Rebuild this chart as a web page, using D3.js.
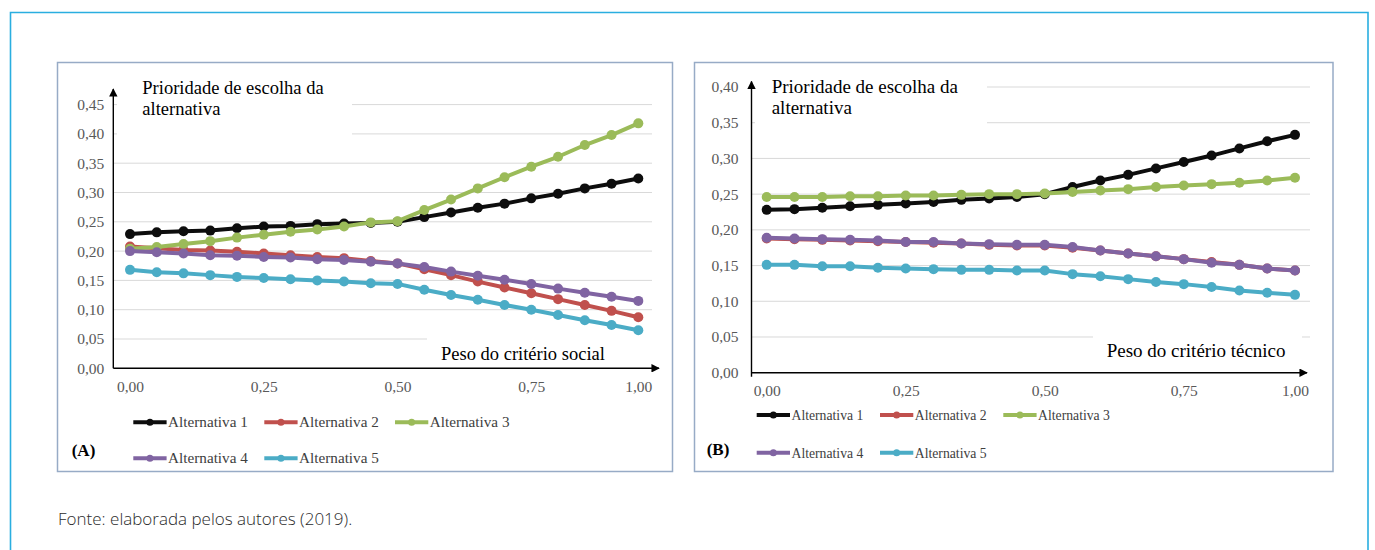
<!DOCTYPE html>
<html>
<head>
<meta charset="utf-8">
<script src="https://cdn.jsdelivr.net/npm/d3@7"></script>
<style>
  body { margin: 0; background: #fff; }
  svg { display: block; }
</style>
</head>
<body>
<svg id="fig" width="1375" height="550"></svg>
<script>
// ---- data ----
const alternativas = ["Alternativa 1", "Alternativa 2", "Alternativa 3", "Alternativa 4", "Alternativa 5"];
// points along the weight axis (category positions)
const pontos = [0, 1, 2, 3, 4, 5, 6, 7, 8, 9, 10, 11, 12, 13, 14, 15, 16, 17, 18, 19];
const posRotulosX = [0, 5, 10, 15, 19];
const rotulosX = ["0,00", "0,25", "0,50", "0,75", "1,00"];
const ticksYSocial = [0, 0.05, 0.10, 0.15, 0.20, 0.25, 0.30, 0.35, 0.40, 0.45];
const ticksYTecnico = [0, 0.05, 0.10, 0.15, 0.20, 0.25, 0.30, 0.35, 0.40];

// (A) weight of the social criterion
const socialAlt1 = [0.229, 0.232, 0.234, 0.235, 0.239, 0.242, 0.243, 0.246, 0.247, 0.248, 0.250, 0.258, 0.266, 0.274, 0.281, 0.290, 0.298, 0.307, 0.315, 0.324];
const socialAlt2 = [0.208, 0.205, 0.202, 0.201, 0.199, 0.196, 0.193, 0.190, 0.188, 0.183, 0.179, 0.169, 0.159, 0.148, 0.138, 0.128, 0.118, 0.108, 0.098, 0.087];
const socialAlt3 = [0.204, 0.207, 0.212, 0.217, 0.223, 0.228, 0.233, 0.237, 0.242, 0.249, 0.251, 0.270, 0.288, 0.307, 0.326, 0.344, 0.361, 0.381, 0.398, 0.418];
const socialAlt4 = [0.200, 0.198, 0.196, 0.193, 0.192, 0.190, 0.189, 0.186, 0.185, 0.182, 0.179, 0.173, 0.165, 0.158, 0.151, 0.144, 0.136, 0.129, 0.122, 0.115];
const socialAlt5 = [0.168, 0.164, 0.162, 0.159, 0.156, 0.154, 0.152, 0.150, 0.148, 0.145, 0.144, 0.134, 0.125, 0.117, 0.108, 0.100, 0.091, 0.082, 0.074, 0.065];

// (B) weight of the technical criterion
const tecnicoAlt1 = [0.228, 0.229, 0.231, 0.233, 0.235, 0.237, 0.239, 0.242, 0.244, 0.246, 0.250, 0.260, 0.269, 0.277, 0.286, 0.295, 0.304, 0.314, 0.324, 0.333];
const tecnicoAlt2 = [0.188, 0.187, 0.186, 0.185, 0.184, 0.183, 0.182, 0.181, 0.179, 0.178, 0.178, 0.175, 0.171, 0.167, 0.163, 0.159, 0.155, 0.151, 0.146, 0.143];
const tecnicoAlt3 = [0.246, 0.246, 0.246, 0.247, 0.247, 0.248, 0.248, 0.249, 0.250, 0.250, 0.251, 0.253, 0.255, 0.257, 0.260, 0.262, 0.264, 0.266, 0.269, 0.273];
const tecnicoAlt4 = [0.189, 0.188, 0.187, 0.186, 0.185, 0.183, 0.183, 0.181, 0.180, 0.179, 0.179, 0.176, 0.171, 0.167, 0.163, 0.159, 0.154, 0.151, 0.146, 0.143];
const tecnicoAlt5 = [0.151, 0.151, 0.149, 0.149, 0.147, 0.146, 0.145, 0.144, 0.144, 0.143, 0.143, 0.138, 0.135, 0.131, 0.127, 0.124, 0.120, 0.115, 0.112, 0.109];

// ---- style ----
const cores = ["#0d0d0d", "#c0504d", "#9bbb59", "#8064a2", "#4bacc6"];
const serif = "'Liberation Serif', 'Times New Roman', serif";
const fmt = d3.formatLocale({ decimal: ",", thousands: ".", grouping: [3], currency: ["", ""] }).format(".2f");

const svg = d3.select("#fig");

// arrowhead used on both axes
svg.append("defs").append("marker")
  .attr("id", "seta").attr("viewBox", "0 0 10 10")
  .attr("refX", 9).attr("refY", 5)
  .attr("markerWidth", 6).attr("markerHeight", 6)
  .attr("markerUnits", "strokeWidth")
  .attr("orient", "auto")
  .append("path").attr("d", "M0,0 L10,5 L0,10 Z").attr("fill", "#000");

// outer page frame (open at the bottom)
svg.append("path")
  .attr("d", "M10.5,560 V12.5 H1368 V560")
  .attr("fill", "none").attr("stroke", "#2aaee0").attr("stroke-width", 1.6);

// source note
svg.append("text")
  .attr("x", 58).attr("y", 525)
  .attr("font-family", "'Open Sans', 'Noto Sans', sans-serif")
  .attr("font-size", 17).attr("font-weight", 300)
  .attr("fill", "#2b2b2b")
  .text("Fonte: elaborada pelos autores (2019).");

function painel(cfg) {
  const g = svg.append("g");

  // chart frame
  g.append("rect")
    .attr("x", cfg.frame[0]).attr("y", cfg.frame[1])
    .attr("width", cfg.frame[2] - cfg.frame[0]).attr("height", cfg.frame[3] - cfg.frame[1])
    .attr("fill", "#fff").attr("stroke", "#97abc6").attr("stroke-width", 1.5);

  const x = d3.scalePoint().domain(pontos).range(cfg.xRange);
  const y = d3.scaleLinear().domain([0, cfg.yMax]).range(cfg.yRange);

  // horizontal gridlines
  g.append("g").selectAll("line")
    .data(cfg.ticksY.filter(d => d > 0))
    .join("line")
    .attr("x1", cfg.axisX).attr("x2", cfg.gridEnd)
    .attr("y1", d => y(d)).attr("y2", d => y(d))
    .attr("stroke", "#d9d9d9").attr("stroke-width", 1);

  // y tick labels
  const ay = g.append("g")
    .attr("transform", `translate(${cfg.axisX},0)`)
    .call(d3.axisLeft(y).tickValues(cfg.ticksY).tickSize(0).tickPadding(cfg.yPad).tickFormat(fmt));
  ay.select(".domain").remove();
  ay.selectAll("text").attr("font-family", serif).attr("font-size", 15.5).attr("fill", "#595959");

  // x tick labels
  const ax = g.append("g")
    .attr("transform", `translate(0,${y(0)})`)
    .call(d3.axisBottom(x).tickValues(posRotulosX).tickSize(0).tickPadding(cfg.xPad)
      .tickFormat(d => rotulosX[posRotulosX.indexOf(d)]));
  ax.select(".domain").remove();
  ax.selectAll("text").attr("font-family", serif).attr("font-size", 15.5).attr("fill", "#595959");

  // text boxes for the axis titles
  g.append("rect").attr("x", cfg.titleBox[0]).attr("y", cfg.titleBox[1])
    .attr("width", cfg.titleBox[2] - cfg.titleBox[0]).attr("height", cfg.titleBox[3] - cfg.titleBox[1])
    .attr("fill", "#fff");
  g.append("rect").attr("x", cfg.xTitleBox[0]).attr("y", cfg.xTitleBox[1])
    .attr("width", cfg.xTitleBox[2] - cfg.xTitleBox[0]).attr("height", cfg.xTitleBox[3] - cfg.xTitleBox[1])
    .attr("fill", "#fff");

  const ty = g.append("text")
    .attr("font-family", serif).attr("font-size", cfg.titleSize).attr("fill", "#000");
  ty.append("tspan").attr("x", cfg.titlePos[0]).attr("y", cfg.titlePos[1]).text("Prioridade de escolha da");
  ty.append("tspan").attr("x", cfg.titlePos[0]).attr("y", cfg.titlePos[1] + 21).text("alternativa");

  g.append("text")
    .attr("x", cfg.xTitlePos[0]).attr("y", cfg.xTitlePos[1])
    .attr("font-family", serif).attr("font-size", cfg.titleSize).attr("fill", "#000")
    .text(cfg.xTitle);

  // axes with arrows
  g.append("line")
    .attr("x1", cfg.axisX).attr("x2", cfg.axisX)
    .attr("y1", y(0) + cfg.yStub).attr("y2", cfg.arrowTop)
    .attr("stroke", "#000").attr("stroke-width", 1.4).attr("marker-end", "url(#seta)");
  g.append("line")
    .attr("x1", cfg.axisX).attr("x2", cfg.arrowRight)
    .attr("y1", y(0)).attr("y2", y(0))
    .attr("stroke", "#000").attr("stroke-width", 1.4).attr("marker-end", "url(#seta)");

  // series
  const linha = d3.line().x((d, i) => x(pontos[i])).y(d => y(d));
  cfg.series.forEach((vals, k) => {
    const s = g.append("g");
    s.append("path").datum(vals)
      .attr("d", linha)
      .attr("fill", "none").attr("stroke", cores[k]).attr("stroke-width", 4)
      .attr("stroke-linejoin", "round").attr("stroke-linecap", "round");
    s.selectAll("circle").data(vals).join("circle")
      .attr("cx", (d, i) => x(pontos[i])).attr("cy", d => y(d))
      .attr("r", 5).attr("fill", cores[k]);
  });

  // legend
  const lg = g.append("g");
  alternativas.forEach((nome, k) => {
    const row = k < 3 ? 0 : 1;
    const col = k < 3 ? k : k - 3;
    const lx = cfg.legendX[col];
    const ly = cfg.legendY[row];
    lg.append("line").attr("x1", lx).attr("x2", lx + cfg.legendLine)
      .attr("y1", ly).attr("y2", ly)
      .attr("stroke", cores[k]).attr("stroke-width", 4);
    lg.append("circle").attr("cx", lx + cfg.legendLine / 2).attr("cy", ly).attr("r", 3.5).attr("fill", cores[k]);
    lg.append("text").attr("x", lx + cfg.legendLine + 1.5).attr("y", ly + 5)
      .attr("font-family", serif).attr("font-size", cfg.legendSize).attr("fill", "#404040")
      .text(nome);
  });

  g.append("text")
    .attr("x", cfg.tagPos[0]).attr("y", cfg.tagPos[1])
    .attr("font-family", serif).attr("font-size", 17).attr("font-weight", "bold").attr("fill", "#000")
    .text(cfg.tag);
}

painel({
  frame: [57.5, 62.5, 672.5, 471.5],
  xRange: [130, 638.3],
  yRange: [368.3, 104.6],
  yMax: 0.45,
  ticksY: ticksYSocial,
  axisX: 113.3,
  gridEnd: 652,
  yPad: 9,
  xPad: 13,
  yStub: 0,
  arrowTop: 89,
  arrowRight: 659,
  titleBox: [117, 78, 352, 142],
  xTitleBox: [427, 333, 656, 366],
  titleSize: 18.5,
  titlePos: [142.3, 94.3],
  xTitle: "Peso do critério social",
  xTitlePos: [441, 360],
  series: [socialAlt1, socialAlt2, socialAlt3, socialAlt4, socialAlt5],
  legendX: [133.3, 264.3, 395],
  legendY: [422.3, 458.3],
  legendLine: 33.3,
  legendSize: 15.2,
  tag: "(A)",
  tagPos: [71.7, 455.5]
});

painel({
  frame: [694.5, 62.5, 1333, 471.5],
  xRange: [766.7, 1295],
  yRange: [372.7, 87],
  yMax: 0.40,
  ticksY: ticksYTecnico,
  axisX: 751.5,
  gridEnd: 1310,
  yPad: 13,
  xPad: 12,
  yStub: 4,
  arrowTop: 81.5,
  arrowRight: 1307,
  titleBox: [755, 74, 987, 128],
  xTitleBox: [1093, 330, 1302, 366],
  titleSize: 19,
  titlePos: [771.7, 93.3],
  xTitle: "Peso do critério técnico",
  xTitlePos: [1106.7, 356.7],
  series: [tecnicoAlt1, tecnicoAlt2, tecnicoAlt3, tecnicoAlt4, tecnicoAlt5],
  legendX: [756.7, 880, 1003.3],
  legendY: [415, 452.7],
  legendLine: 33.3,
  legendSize: 13.7,
  tag: "(B)",
  tagPos: [706.7, 455]
});
</script>
</body>
</html>
